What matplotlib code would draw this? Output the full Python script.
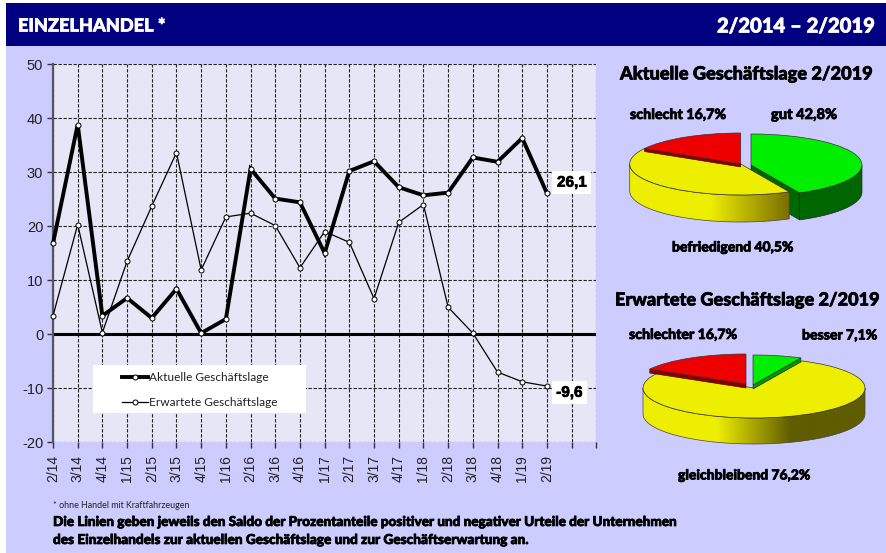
#!/usr/bin/env python3
"""Einzelhandel: Saldo lines plus two 3D looking pies"""
import numpy as np
import matplotlib
matplotlib.use('Agg')
import matplotlib.pyplot as plt
import matplotlib.patheffects as pe
from matplotlib.colors import LinearSegmentedColormap
from matplotlib.patches import Polygon, Rectangle

plt.rcParams['font.family'] = ['Lato', 'Liberation Sans', 'DejaVu Sans']

W, H = 886, 553

quarters = ['2/14', '3/14', '4/14', '1/15', '2/15', '3/15', '4/15', '1/16', '2/16', '3/16', '4/16',
            '1/17', '2/17', '3/17', '4/17', '1/18', '2/18', '3/18', '4/18', '1/19', '2/19']
aktuell = [16.8, 38.8, 3.4, 6.7, 3.0, 8.4, 0.2, 2.8, 30.6, 25.1, 24.4,
           15.0, 30.2, 32.0, 27.2, 25.7, 26.2, 32.7, 31.9, 36.3, 26.1]
erwartet = [3.4, 20.3, 0.3, 13.5, 23.7, 33.6, 11.9, 21.7, 22.4, 20.1, 12.3,
            19.0, 17.0, 6.6, 20.7, 24.0, 5.0, 0.2, -7.0, -8.8, -9.6]
y_ticks = [-20, -10, 0, 10, 20, 30, 40, 50]

# both pies go clockwise from 12 o'clock: green, yellow, red
shares_aktuell = [42.8, 40.5, 16.7]
shares_erwartet = [7.1, 76.2, 16.7]

GREEN, YELLOW, RED = '#00ee00', '#eeee00', '#ee0000'
BG = '#ccccff'


def px_axes(fig, x0, y0, x1, y1):
    """axes from pixel box, y counted from the top"""
    return fig.add_axes([x0 / W, 1 - y1 / H, (x1 - x0) / W, (y1 - y0) / H])


def txt(fig, x0, x1, y, s, weight=900, color='black'):
    """text running from pixel x0 to x1, font size follows from that width"""
    t = fig.text(x0 / W, 1 - y / H, s, fontsize=10, fontweight=weight, color=color, ha='left', va='center')
    width = t.get_window_extent(fig.canvas.get_renderer()).width
    t.set_fontsize(10 * (x1 - x0) / width)
    if weight == 900:
        # the original lettering is heavier than the font
        t.set_path_effects([pe.withStroke(linewidth=0.5, foreground=color)])
    return t


def rim(a0, a1, n=60):
    """points on the unit circle, angles in degrees clockwise from the top"""
    t = np.radians(np.linspace(a0, a1, n))
    return np.sin(t), np.cos(t)


def draw_pie(fig, cx, cy, shares, rx, ry, wall, offs, cut, wall_colors):
    """offs are pixel shifts of the green and red slice, cut the red edge thickness"""
    box = px_axes(fig, cx - 1.2 * rx, cy - 1.3 * ry - 10, cx + 1.2 * rx, cy + 1.3 * ry + wall + 10)
    lims = (-1.2, 1.2), (-(1.3 * ry + wall + 10) / ry, (1.3 * ry + 10) / ry)
    h = wall / ry
    edge = {'edgecolor': '#333333', 'linewidth': 0.5}

    wedges, _ = box.pie(shares, colors=[GREEN, YELLOW, RED], startangle=90, counterclock=False,
                        radius=1, frame=False, wedgeprops=edge)
    box.axis('off')
    box.set_aspect('auto')

    a_green = shares[0] * 3.6
    a_yellow = a_green + shares[1] * 3.6

    # green slice: a big one shows wall and cut face behind yellow, a small one a thin edge over it
    gx, gy = offs[0][0] / rx, offs[0][1] / ry
    wedges[0].set_center((gx, gy))
    wedges[0].set_zorder(8)
    xs, ys = rim(0, a_green)
    xs, ys = xs + gx, ys + gy
    big = a_green > 90
    depth = h if big else cut / ry
    face_end = [(gx, gy), (xs[-1], ys[-1]), (xs[-1], ys[-1] - depth), (gx, gy - depth)]
    box.add_patch(Polygon(face_end, closed=True, fc='#006600' if big else '#009900', ec='#222222', lw=0.4,
                          zorder=2 if big else 7))
    low = ys < gy + 0.02
    if low.any():
        outer = np.r_[np.c_[xs[low], ys[low]], np.c_[xs[low], ys[low] - h][::-1]]
        box.add_patch(Polygon(outer, closed=True, fc='#006600', ec='#222222', lw=0.5, zorder=2))

    # yellow slice, its wall has a left to right gradient
    wedges[1].set_zorder(5)
    xs, ys = rim(max(a_green, 90), min(a_yellow, 270))
    outer = np.r_[np.c_[xs, ys], np.c_[xs, ys - h][::-1]]
    box.add_patch(Polygon(outer, closed=True, fc='none', ec='#444444', lw=0.5, zorder=4.5))
    grad = LinearSegmentedColormap.from_list('wall', wall_colors)
    img = box.imshow(np.linspace(0, 1, 256).reshape(1, -1), cmap=grad, aspect='auto', zorder=4,
                     extent=(xs.min(), xs.max(), (ys - h).min(), ys.max()))
    img.set_clip_path(Polygon(outer, closed=True, transform=box.transData))

    # red slice sits above the yellow one, only a thin dark edge shows
    rx0, ry0 = offs[1][0] / rx, offs[1][1] / ry
    wedges[2].set_center((rx0, ry0))
    wedges[2].set_zorder(7)
    xs, ys = rim(a_yellow, 360, 2)
    c = cut / ry
    strip = [(rx0, ry0), (xs[0] + rx0, ys[0] + ry0), (xs[0] + rx0, ys[0] + ry0 - c), (rx0, ry0 - c)]
    box.add_patch(Polygon(strip, closed=True, fc='#880000', ec='#440000', lw=0.4, zorder=6))
    box.set_xlim(*lims[0])
    box.set_ylim(*lims[1])
    return box


fig = plt.figure(figsize=(W / 100, H / 100), dpi=100, facecolor='white')

# page background and header band
page = fig.add_axes([0, 0, 1, 1], zorder=0)
page.set_xlim(0, W)
page.set_ylim(H, 0)
page.axis('off')
page.add_patch(Rectangle((6, 3), W - 6, H - 3, fc=BG, ec='none'))
page.add_patch(Rectangle((6, 3), W - 6, 43, fc='#000080', ec='none'))

txt(fig, 18, 165, 26, 'EINZELHANDEL *', color='white')
txt(fig, 717, 875, 26, '2/2014 – 2/2019', color='white')

# line chart
ax = px_axes(fig, 53, 64, 596.3, 442.3)
x = np.arange(len(quarters))
ax.set_facecolor('#e6e6f6')
ax.set_xlim(0, 22)
ax.set_ylim(-20, 50)
ax.set_xticks(np.arange(23))
ax.set_xticklabels(quarters + ['', ''], rotation=90, fontsize=10, color='#222222', family='Liberation Sans')
ax.set_yticks(y_ticks)
ax.set_yticklabels([str(v) for v in y_ticks], fontsize=10.5, color='#222222', family='Liberation Sans')
ax.tick_params(axis='both', length=4, width=1, color='#333333', pad=3)
ax.tick_params(axis='x', pad=5)
ax.grid(True, color='#222222', lw=0.8, ls=(0, (3, 1.5)))
ax.set_axisbelow(True)
for side in ('top', 'right', 'bottom'):
    ax.spines[side].set_visible(False)
ax.spines['left'].set_color('#555566')
ax.spines['left'].set_linewidth(1.6)
ax.axhline(0, color='black', lw=2.2, zorder=2)

line_a, = ax.plot(x, aktuell, color='black', lw=2.8, marker='o', ms=3.6, mfc='white', mec='black', mew=0.7,
                  solid_joinstyle='miter', clip_on=False, zorder=4, label='Aktuelle Geschäftslage')
line_e, = ax.plot(x, erwartet, color='black', lw=0.9, marker='o', ms=3.6, mfc='white', mec='black', mew=0.7,
                  clip_on=False, zorder=3, label='Erwartete Geschäftslage')

# legend: white box is wider than the entries, so drawn apart
ax.add_patch(Rectangle(((92.7 - 53) / 543.3, 1 - (412.7 - 64) / 378.3), 213.3 / 543.3, 47.7 / 378.3,
                       transform=ax.transAxes, fc='white', ec='none', zorder=5))
leg = ax.legend(handles=[line_a, line_e], loc='upper left', frameon=False, fontsize=8.6,
                bbox_to_anchor=((119 - 53) / 543.3, 1 - (369 - 64) / 378.3), borderaxespad=0, borderpad=0.25,
                handlelength=2.2, handletextpad=0.05, labelspacing=1.2)
leg.set_zorder(6)
for t in leg.get_texts():
    t.set_color('#222222')

for value, off, s in [(aktuell[-1], (25, 10.5), '26,1'), (erwartet[-1], (22.5, -6.7), '-9,6')]:
    ax.annotate(s, xy=(x[-1], value), xytext=off, textcoords='offset pixels', ha='center', va='center',
                fontsize=11, fontweight='bold', family='Liberation Sans',
                path_effects=[pe.withStroke(linewidth=0.5, foreground='black')],
                bbox=dict(fc='white', ec='none', boxstyle='square,pad=0.3'), zorder=6)

# notes under the chart
txt(fig, 53, 189, 505, '* ohne Handel mit Kraftfahrzeugen', weight='normal', color='#222222')
txt(fig, 53, 675, 522, 'Die Linien geben jeweils den Saldo der Prozentanteile positiver und negativer Urteile der Unternehmen')
txt(fig, 53, 527, 540, 'des Einzelhandels zur aktuellen Geschäftslage und zur Geschäftserwartung an.')

# pies
draw_pie(fig, 740.7, 164, shares_aktuell, 111, 31, 27, [(10.3, -1), (0, 0)], 3, [YELLOW, YELLOW, '#7a6c00'])
draw_pie(fig, 754, 388, shares_erwartet, 111, 30, 26, [(-1, 3), (-8, 4)], 4, [YELLOW, YELLOW, '#605c00', '#605c00'])

txt(fig, 620, 872, 74, 'Aktuelle Geschäftslage 2/2019')
txt(fig, 615, 879, 300, 'Erwartete Geschäftslage 2/2019')
txt(fig, 630, 726, 115, 'schlecht 16,7%')
txt(fig, 771, 837, 115, 'gut 42,8%')
txt(fig, 672, 793, 247.5, 'befriedigend 40,5%')
txt(fig, 629, 737, 335, 'schlechter 16,7%')
txt(fig, 802, 877, 335.5, 'besser 7,1%')
txt(fig, 678, 810, 475.5, 'gleichbleibend 76,2%')

fig.savefig('out.png', dpi=100, facecolor=fig.get_facecolor())
